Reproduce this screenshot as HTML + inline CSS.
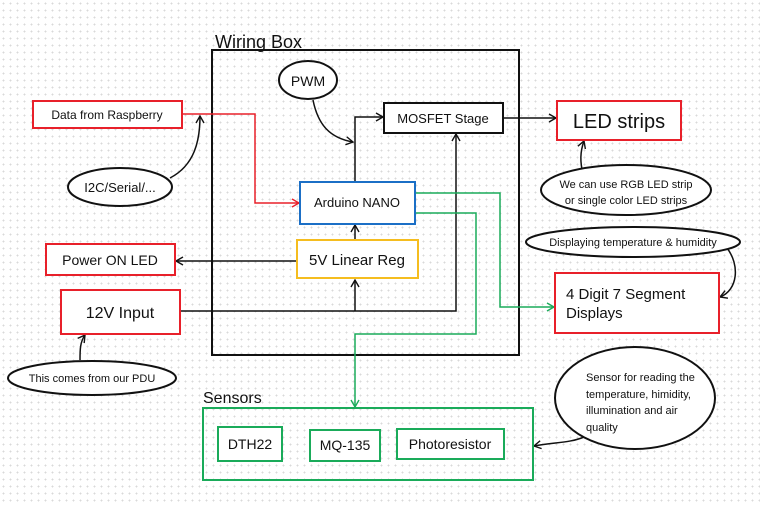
<!DOCTYPE html>
<html><head><meta charset="utf-8"><style>
html,body{margin:0;padding:0;}
body{width:760px;height:506px;overflow:hidden;background:#fff;
background-image:radial-gradient(#d9d9d9 0.8px,transparent 1px);background-size:7px 7px;}
svg{position:absolute;left:0;top:0}
text{font-family:"Liberation Sans",sans-serif;fill:#111}
</style></head><body>
<svg width="760" height="506" viewBox="0 0 760 506" xmlns="http://www.w3.org/2000/svg">
<defs>
<marker id="a" markerWidth="10" markerHeight="10" refX="8" refY="5" orient="auto" markerUnits="userSpaceOnUse"><path d="M1,1 L8,5 L1,9" fill="none" stroke="#111" stroke-width="1.4"/></marker>
<marker id="ar" markerWidth="10" markerHeight="10" refX="8" refY="5" orient="auto" markerUnits="userSpaceOnUse"><path d="M1,1 L8,5 L1,9" fill="none" stroke="#e8202a" stroke-width="1.4"/></marker>
<marker id="ag" markerWidth="10" markerHeight="10" refX="8" refY="5" orient="auto" markerUnits="userSpaceOnUse"><path d="M1,1 L8,5 L1,9" fill="none" stroke="#1aab5a" stroke-width="1.4"/></marker>
</defs>
<!-- wiring box -->
<rect x="212" y="50" width="307" height="305" fill="none" stroke="#111" stroke-width="2"/>
<text x="215" y="48" font-size="18">Wiring Box</text>
<!-- connectors -->
<polyline points="182,114 255,114 255,203 299,203" fill="none" stroke="#e8202a" stroke-width="1.5" marker-end="url(#ar)"/>
<path d="M170,178 C195,165 200,140 200,116" fill="none" stroke="#111" stroke-width="1.5" marker-end="url(#a)"/>
<path d="M313,100 C318,125 330,138 353,142" fill="none" stroke="#111" stroke-width="1.5" marker-end="url(#a)"/>
<polyline points="355,182 355,117 383,117" fill="none" stroke="#111" stroke-width="1.5" marker-end="url(#a)"/>
<line x1="503" y1="118" x2="556" y2="118" stroke="#111" stroke-width="1.5" marker-end="url(#a)"/>
<line x1="355" y1="240" x2="355" y2="225" stroke="#111" stroke-width="1.5" marker-end="url(#a)"/>
<line x1="297" y1="261" x2="176" y2="261" stroke="#111" stroke-width="1.5" marker-end="url(#a)"/>
<polyline points="180,311 456,311 456,134" fill="none" stroke="#111" stroke-width="1.5" marker-end="url(#a)"/>
<line x1="355" y1="311" x2="355" y2="280" stroke="#111" stroke-width="1.5" marker-end="url(#a)"/>
<polyline points="415,193 500,193 500,307 554,307" fill="none" stroke="#1aab5a" stroke-width="1.5" marker-end="url(#ag)"/>
<polyline points="415,213 476,213 476,334 355,334 355,407" fill="none" stroke="#1aab5a" stroke-width="1.5" marker-end="url(#ag)"/>
<path d="M583,174 C580,162 580,152 584,141" fill="none" stroke="#111" stroke-width="1.5" marker-end="url(#a)"/>
<path d="M727,248 C740,265 738,290 720,297" fill="none" stroke="#111" stroke-width="1.5" marker-end="url(#a)"/>
<path d="M80,360 C80,350 80,342 85,335" fill="none" stroke="#111" stroke-width="1.5" marker-end="url(#a)"/>
<path d="M584,437 C570,443 555,442 534,446" fill="none" stroke="#111" stroke-width="1.5" marker-end="url(#a)"/>
<!-- nodes -->
<ellipse cx="308" cy="80" rx="29" ry="19" fill="#fff" stroke="#111" stroke-width="2"/>
<text x="308" y="86" font-size="14" text-anchor="middle">PWM</text>
<rect x="384" y="103" width="119" height="30" fill="#fff" stroke="#111" stroke-width="2"/>
<text x="443" y="123" font-size="13" text-anchor="middle">MOSFET Stage</text>
<rect x="557" y="101" width="124" height="39" fill="#fff" stroke="#e8202a" stroke-width="2"/>
<text x="619" y="128" font-size="20" text-anchor="middle">LED strips</text>
<rect x="33" y="101" width="149" height="27" fill="#fff" stroke="#e8202a" stroke-width="2"/>
<text x="107" y="119" font-size="12" text-anchor="middle">Data from Raspberry</text>
<ellipse cx="120" cy="187" rx="52" ry="19" fill="#fff" stroke="#111" stroke-width="2"/>
<text x="120" y="192" font-size="13" text-anchor="middle">I2C/Serial/...</text>
<rect x="300" y="182" width="115" height="42" fill="#fff" stroke="#1b6fc6" stroke-width="2"/>
<text x="357" y="207" font-size="13" text-anchor="middle">Arduino NANO</text>
<rect x="297" y="240" width="121" height="38" fill="#fff" stroke="#f5bd1f" stroke-width="2"/>
<text x="357" y="265" font-size="15" text-anchor="middle">5V Linear Reg</text>
<rect x="46" y="244" width="129" height="31" fill="#fff" stroke="#e8202a" stroke-width="2"/>
<text x="110" y="265" font-size="14" text-anchor="middle">Power ON LED</text>
<rect x="61" y="290" width="119" height="44" fill="#fff" stroke="#e8202a" stroke-width="2"/>
<text x="120" y="318" font-size="16" text-anchor="middle">12V Input</text>
<ellipse cx="92" cy="378" rx="84" ry="17" fill="#fff" stroke="#111" stroke-width="2"/>
<text x="92" y="382" font-size="11" text-anchor="middle">This comes from our PDU</text>
<ellipse cx="626" cy="190" rx="85" ry="25" fill="#fff" stroke="#111" stroke-width="2"/>
<text x="626" y="188" font-size="11" text-anchor="middle">We can use RGB LED strip</text>
<text x="626" y="204" font-size="11" text-anchor="middle">or single color LED strips</text>
<ellipse cx="633" cy="242" rx="107" ry="15" fill="#fff" stroke="#111" stroke-width="2"/>
<text x="633" y="246" font-size="11" text-anchor="middle">Displaying temperature &amp; humidity</text>
<rect x="555" y="273" width="164" height="60" fill="#fff" stroke="#e8202a" stroke-width="2"/>
<text x="566" y="299" font-size="15">4 Digit 7 Segment</text>
<text x="566" y="318" font-size="15">Displays</text>
<text x="203" y="403" font-size="16">Sensors</text>
<rect x="203" y="408" width="330" height="72" fill="none" stroke="#1aab5a" stroke-width="2"/>
<rect x="218" y="427" width="64" height="34" fill="#fff" stroke="#1aab5a" stroke-width="2"/>
<text x="250" y="449" font-size="14" text-anchor="middle">DTH22</text>
<rect x="310" y="430" width="70" height="31" fill="#fff" stroke="#1aab5a" stroke-width="2"/>
<text x="345" y="450" font-size="14" text-anchor="middle">MQ-135</text>
<rect x="397" y="429" width="107" height="30" fill="#fff" stroke="#1aab5a" stroke-width="2"/>
<text x="450" y="449" font-size="14" text-anchor="middle">Photoresistor</text>
<ellipse cx="635" cy="398" rx="80" ry="51" fill="#fff" stroke="#111" stroke-width="2"/>
<text x="586" y="381" font-size="11">Sensor for reading the</text>
<text x="586" y="398" font-size="11">temperature, himidity,</text>
<text x="586" y="414" font-size="11">illumination and air</text>
<text x="586" y="431" font-size="11">quality</text>
</svg>
</body></html>
